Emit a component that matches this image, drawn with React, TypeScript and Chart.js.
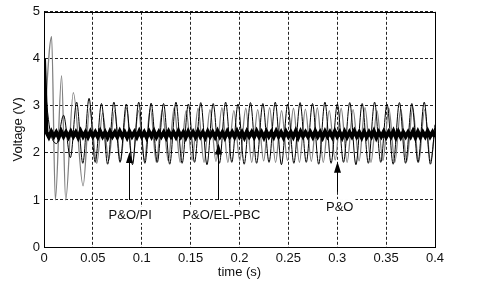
import React, { useEffect, useRef } from 'react';
import { Chart, registerables } from 'chart.js';

Chart.register(...registerables);

const xTickLabels = ['0', '0.05', '0.1', '0.15', '0.2', '0.25', '0.3', '0.35', '0.4'];
const yTickLabels = ['0', '1', '2', '3', '4', '5'];

// P&O/PI (grey) : turning points [time, voltage]
const piSeries: [number, number][] = [
  [0, 2.5], [0.0078, 4.47], [0.0116, 1.0], [0.018, 3.64], [0.0222, 1.0], [0.03, 3.28],
  [0.04, 1.3], [0.0468, 2.95], [0.054, 1.78], [0.06, 2.85], [0.0662, 1.85], [0.0722, 2.9],
  [0.0783, 1.82], [0.0844, 2.95], [0.0905, 1.8], [0.0966, 2.9], [0.1027, 1.84], [0.1088, 2.95],
  [0.1149, 1.8], [0.121, 2.92], [0.1271, 1.83], [0.1332, 2.96], [0.1393, 1.8], [0.1454, 2.9],
  [0.1515, 1.85], [0.1576, 2.95], [0.1637, 1.8], [0.1698, 2.92], [0.1759, 1.82], [0.182, 2.96],
  [0.1881, 1.8], [0.1942, 2.9], [0.2003, 1.84], [0.2064, 2.95], [0.2125, 1.8], [0.2186, 2.92],
  [0.2247, 1.83], [0.2308, 2.96], [0.2369, 1.8], [0.243, 2.9], [0.2491, 1.84], [0.2552, 2.95],
  [0.2613, 1.8], [0.2674, 2.93], [0.2735, 1.82], [0.2796, 2.96], [0.2857, 1.8], [0.2918, 2.9],
  [0.2979, 1.85], [0.304, 2.95], [0.3101, 1.8], [0.3162, 2.92], [0.3223, 1.83], [0.3284, 2.96],
  [0.3345, 1.8], [0.3406, 2.9], [0.3467, 1.84], [0.3528, 2.95], [0.3589, 1.8], [0.365, 2.93],
  [0.3711, 1.82], [0.3772, 2.96], [0.3833, 1.8], [0.3894, 2.92], [0.3955, 1.82], [0.4, 2.5],
];

// P&O (thin black) : turning points [time, voltage]
const poSeries: [number, number][] = [
  [0, 3.6], [0.006, 2.5], [0.013, 2.2], [0.02, 2.8], [0.027, 1.9],
  [0.0334, 3.08], [0.0397, 1.78], [0.0461, 3.16], [0.0524, 1.8], [0.0588, 3.05], [0.0651, 1.76],
  [0.0715, 3.08], [0.0778, 1.8], [0.0842, 3.04], [0.0905, 1.75], [0.0969, 3.08], [0.1032, 1.78],
  [0.1096, 3.06], [0.1159, 1.8], [0.1223, 3.05], [0.1286, 1.76], [0.135, 3.08], [0.1413, 1.78],
  [0.1477, 3.04], [0.154, 1.8], [0.1604, 3.07], [0.1667, 1.75], [0.1731, 3.05], [0.1794, 1.78],
  [0.1858, 3.08], [0.1921, 1.8], [0.1985, 3.04], [0.2048, 1.76], [0.2112, 3.07], [0.2175, 1.78],
  [0.2239, 3.05], [0.2302, 1.8], [0.2366, 3.08], [0.2429, 1.75], [0.2493, 3.04], [0.2556, 1.78],
  [0.262, 3.07], [0.2683, 1.8], [0.2747, 3.05], [0.281, 1.76], [0.2874, 3.08], [0.2937, 1.78],
  [0.3001, 3.04], [0.3064, 1.8], [0.3128, 3.07], [0.3191, 1.75], [0.3255, 3.05], [0.3318, 1.78],
  [0.3382, 3.08], [0.3445, 1.8], [0.3509, 3.04], [0.3572, 1.76], [0.3636, 3.07], [0.3699, 1.78],
  [0.3763, 3.05], [0.3826, 1.8], [0.389, 3.08], [0.3953, 1.76], [0.4, 2.6],
];

// P&O/EL-PBC (thick black) : sampled every elpbcStep seconds
const elpbcStep = 0.0025;
const elpbcValues: number[] = [
  4.0, 2.44, 2.34, 2.45, 2.35, 2.44, 2.33, 2.46, 2.35, 2.44,
  2.34, 2.45, 2.35, 2.44, 2.33, 2.46, 2.35, 2.44, 2.34, 2.45,
  2.35, 2.44, 2.34, 2.46, 2.35, 2.44, 2.33, 2.45, 2.35, 2.44,
  2.34, 2.46, 2.35, 2.44, 2.33, 2.45, 2.35, 2.44, 2.34, 2.46,
  2.35, 2.44, 2.33, 2.45, 2.35, 2.46, 2.34, 2.44, 2.35, 2.44,
  2.33, 2.45, 2.35, 2.44, 2.34, 2.46, 2.35, 2.44, 2.33, 2.45,
  2.35, 2.44, 2.34, 2.46, 2.35, 2.44, 2.33, 2.45, 2.35, 2.44,
  2.34, 2.46, 2.35, 2.44, 2.33, 2.45, 2.35, 2.44, 2.34, 2.46,
  2.35, 2.44, 2.33, 2.45, 2.35, 2.44, 2.34, 2.46, 2.35, 2.44,
  2.33, 2.45, 2.35, 2.44, 2.34, 2.46, 2.35, 2.44, 2.33, 2.45,
  2.35, 2.44, 2.34, 2.46, 2.33, 2.45, 2.35, 2.44, 2.35, 2.44,
  2.34, 2.46, 2.35, 2.44, 2.33, 2.45, 2.35, 2.44, 2.34, 2.46,
  2.35, 2.44, 2.33, 2.45, 2.34, 2.44, 2.35, 2.46, 2.35, 2.44,
  2.33, 2.45, 2.34, 2.44, 2.35, 2.46, 2.33, 2.44, 2.35, 2.45,
  2.34, 2.44, 2.35, 2.46, 2.33, 2.45, 2.34, 2.44, 2.35, 2.44,
  2.35, 2.46, 2.33, 2.45, 2.34, 2.44, 2.35, 2.46, 2.35, 2.44,
  2.34,
];

// arrow annotations (data coordinates)
const arrowLabels = ['P&O/PI', 'P&O/EL-PBC', 'P&O'];
const arrowTimes = [0.0865, 0.1775, 0.2995];
const arrowTips = [2.02, 2.2, 1.81];
const arrowTails = [1.0, 1.0, 1.17];
const labelTimes = [0.0882, 0.1815, 0.3025];
const labelValues = [0.68, 0.68, 0.85];

const FONT = "'Liberation Sans', Arial, Helvetica, sans-serif";

export default function App() {
  const ref = useRef<HTMLCanvasElement>(null);

  useEffect(() => {
    document.body.style.margin = '0';
    const canvas = ref.current;
    if (!canvas) return;

    const annotPlugin = {
      id: 'annot',
      afterDatasetsDraw(chart: any) {
        const { ctx, chartArea: a, scales } = chart;
        const xs = scales.x;
        const ys = scales.y;
        ctx.save();
        // frame, aligned with the grid lines
        ctx.strokeStyle = '#000';
        ctx.lineWidth = 1;
        ctx.setLineDash([]);
        ctx.strokeRect(Math.round(a.left) + 0.5, Math.round(a.top) + 0.5,
          Math.round(a.right) - Math.round(a.left), Math.round(a.bottom) - Math.round(a.top));
        // arrows
        ctx.font = `13px ${FONT}`;
        ctx.textAlign = 'center';
        ctx.textBaseline = 'middle';
        for (let i = 0; i < arrowLabels.length; i++) {
          const x = Math.round(xs.getPixelForValue(arrowTimes[i])) + 0.5;
          const tip = ys.getPixelForValue(arrowTips[i]);
          const tail = ys.getPixelForValue(arrowTails[i]);
          ctx.strokeStyle = '#000';
          ctx.beginPath();
          ctx.moveTo(x, tail);
          ctx.lineTo(x, tip + 8);
          ctx.stroke();
          ctx.fillStyle = '#000';
          ctx.beginPath();
          ctx.moveTo(x, tip);
          ctx.lineTo(x - 3.5, tip + 11);
          ctx.lineTo(x + 3.5, tip + 11);
          ctx.closePath();
          ctx.fill();
          const lx = xs.getPixelForValue(labelTimes[i]);
          const ly = ys.getPixelForValue(labelValues[i]);
          const w = ctx.measureText(arrowLabels[i]).width;
          ctx.fillStyle = '#fff';
          ctx.fillRect(lx - w / 2 - 2, ly - 8, w + 4, 16);
          ctx.fillStyle = '#111';
          ctx.fillText(arrowLabels[i], lx, ly);
        }
        ctx.restore();
      },
    };

    const chart = new Chart(canvas, {
      type: 'line',
      data: {
        datasets: [
          {
            label: 'P&O/EL-PBC',
            data: elpbcValues.map((v, i) => ({ x: i * elpbcStep, y: v })),
            borderColor: '#000',
            borderWidth: 4,
            pointRadius: 0,
            tension: 0,
            order: 0,
          },
          {
            label: 'P&O',
            data: poSeries.map(([t, v]) => ({ x: t, y: v })),
            borderColor: '#000',
            borderWidth: 1,
            pointRadius: 0,
            cubicInterpolationMode: 'monotone',
            order: 1,
          },
          {
            label: 'P&O/PI',
            data: piSeries.map(([t, v]) => ({ x: t, y: v })),
            borderColor: '#808080',
            borderWidth: 1.3,
            pointRadius: 0,
            cubicInterpolationMode: 'monotone',
            order: 2,
          },
        ],
      },
      options: {
        responsive: false,
        animation: false,
        devicePixelRatio: 1,
        layout: { padding: { left: 0, top: 11, right: 45, bottom: 0 } },
        plugins: { legend: { display: false }, tooltip: { enabled: false } },
        scales: {
          x: {
            type: 'linear',
            min: 0,
            max: 0.4,
            afterFit: (s: any) => { s.height = 41; },
            grid: { color: '#222', lineWidth: 1, drawTicks: false },
            border: { display: true, color: '#000', dash: [3, 2] },
            ticks: {
              stepSize: 0.05,
              autoSkip: false,
              maxRotation: 0,
              padding: 4,
              color: '#111',
              font: { family: FONT, size: 13 },
              callback: (v: any, i: number) => xTickLabels[i] ?? String(v),
            },
            title: {
              display: true,
              text: 'time (s)',
              color: '#111',
              font: { family: FONT, size: 13 },
              padding: { top: 0, bottom: 8 },
            },
          },
          y: {
            type: 'linear',
            min: 0,
            max: 5,
            afterFit: (s: any) => { s.width = 44; },
            grid: { color: '#222', lineWidth: 1, drawTicks: false },
            border: { display: true, color: '#000', dash: [3, 2] },
            ticks: {
              stepSize: 1,
              padding: 4,
              color: '#111',
              font: { family: FONT, size: 13 },
              callback: (v: any, i: number) => yTickLabels[i] ?? String(v),
            },
            title: {
              display: true,
              text: 'Voltage (V)',
              color: '#111',
              font: { family: FONT, size: 13 },
              padding: { top: 11, bottom: 0 },
            },
          },
        },
      },
      plugins: [annotPlugin],
    });

    return () => chart.destroy();
  }, []);

  return <canvas ref={ref} width={480} height={288} style={{ display: 'block', width: 480, height: 288 }} />;
}
